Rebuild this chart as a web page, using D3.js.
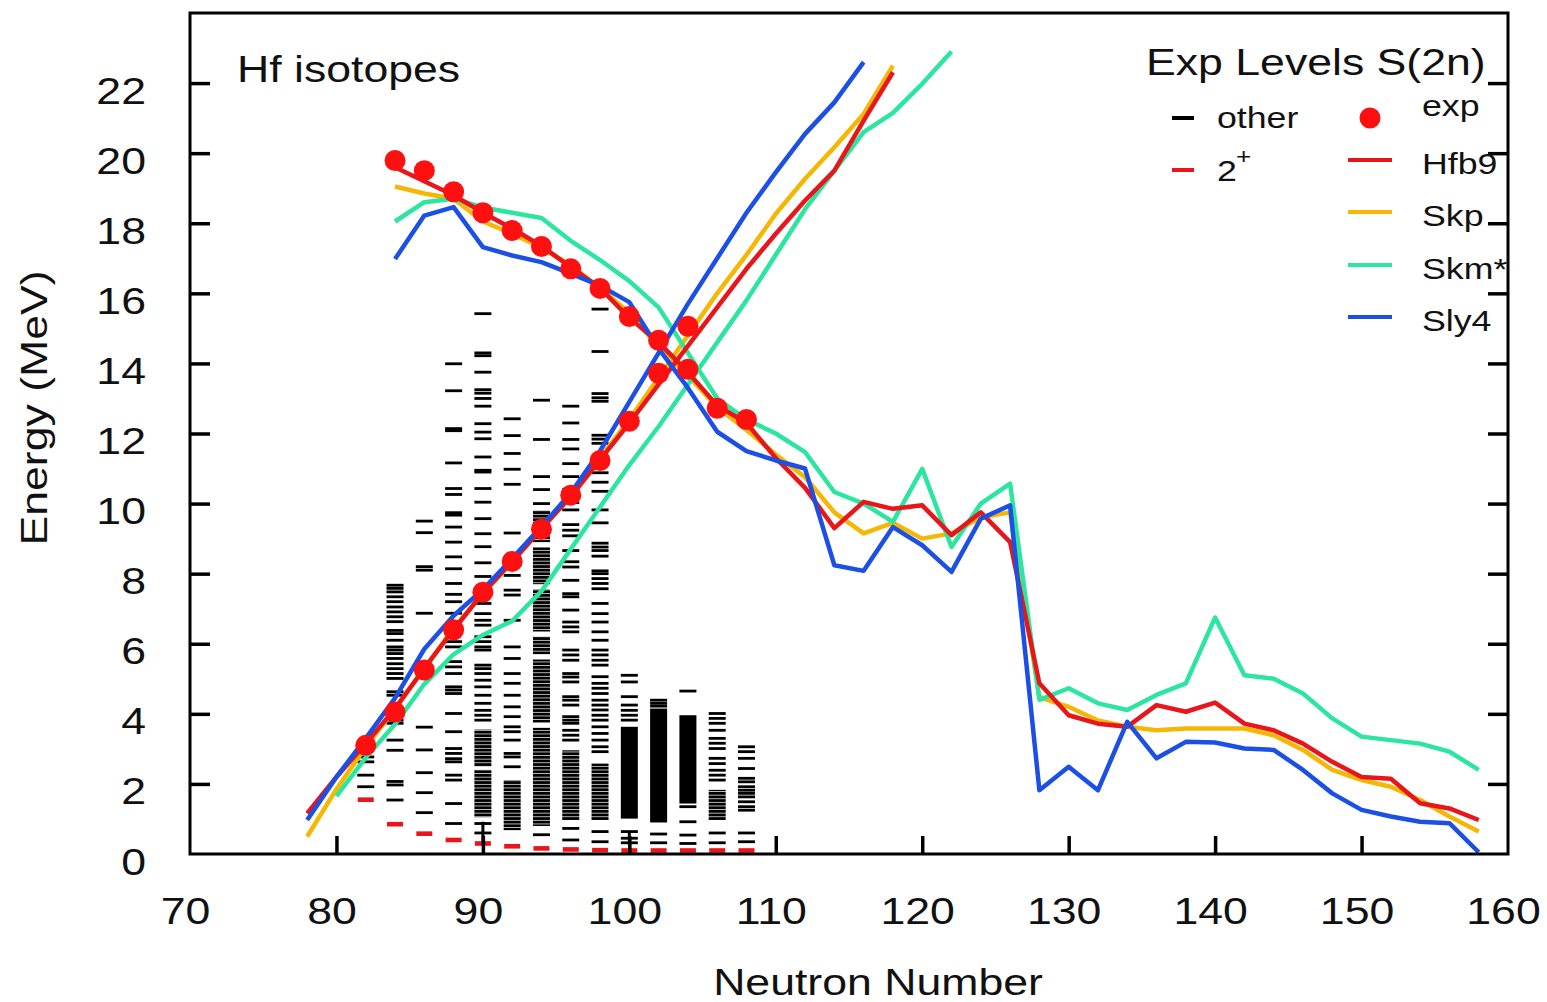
<!DOCTYPE html>
<html>
<head>
<meta charset="utf-8">
<script src="https://cdn.jsdelivr.net/npm/d3@7"></script>
<style>
  body { margin: 0; background: #fff; }
  text { font-family: "Liberation Sans", Arial, Helvetica, sans-serif; fill: #111; }
</style>
</head>
<body>
<svg id="chart" width="1547" height="1002"></svg>
<script>
// ---- data ----
var riseN = [78, 80, 82, 84, 86, 88, 90, 92, 94, 96, 98, 100, 102, 104, 106, 108, 110, 112, 114, 116, 118];
var riseSkmN = [80, 82, 84, 86, 88, 90, 92, 94, 96, 98, 100, 102, 104, 106, 108, 110, 112, 114, 116, 118, 120, 122];
var fallN = [84, 86, 88, 90, 92, 94, 96, 98, 100, 102, 104, 106, 108, 110, 112, 114, 116, 118, 120, 122, 124, 126,
	128, 130, 132, 134, 136, 138, 140, 142, 144, 146, 148, 150, 152, 154, 156, 158];

var hfb9Rise = [1.16, 2.2, 3.15, 4.15, 5.3, 6.4, 7.45, 8.34, 9.28, 10.2, 11.25, 12.3, 13.4, 14.5, 15.6, 16.7, 17.7, 18.65, 19.5, 20.93, 22.31];
var skpRise = [0.5, 1.85, 3.05, 4.15, 5.3, 6.45, 7.43, 8.34, 9.3, 10.25, 11.3, 12.4, 13.6, 14.8, 16.0, 17.1, 18.27, 19.27, 20.17, 21.12, 22.5];
var skmRise = [1.65, 2.75, 3.7, 4.85, 5.7, 6.25, 6.65, 7.5, 8.7, 9.9, 11.1, 12.2, 13.4, 14.6, 15.8, 17.1, 18.4, 19.5, 20.6, 21.15, 21.98, 22.9];
var sly4Rise = [0.97, 2.2, 3.3, 4.45, 5.85, 6.8, 7.55, 8.43, 9.35, 10.3, 11.5, 12.9, 14.3, 15.7, 17.0, 18.3, 19.45, 20.55, 21.45, 22.6];

var hfb9Fall = [19.6, 19.2, 18.8, 18.3, 17.85, 17.35, 16.75, 16.15, 15.3, 14.6, 13.75, 12.8, 12.3, 11.3, 10.45, 9.3, 10.05, 9.85, 9.95, 9.1, 9.75, 8.9,
	4.87, 3.96, 3.72, 3.63, 4.25, 4.06, 4.32, 3.72, 3.53, 3.15, 2.63, 2.2, 2.15, 1.45, 1.3, 0.97];
var skpFall = [19.05, 18.85, 18.7, 18.05, 17.7, 17.3, 16.8, 16.15, 15.45, 14.45, 13.65, 12.75, 12.1, 11.4, 10.75, 9.75, 9.15, 9.45, 9.0, 9.15, 9.6, 9.75,
	4.48, 4.2, 3.81, 3.63, 3.53, 3.58, 3.58, 3.58, 3.39, 2.97, 2.4, 2.11, 1.92, 1.54, 1.07, 0.64];
var skmFall = [18.05, 18.6, 18.7, 18.45, 18.3, 18.15, 17.5, 16.95, 16.35, 15.6, 14.3, 13.0, 12.4, 12.0, 11.47, 10.33, 10.0, 9.48, 10.99, 8.76, 10.0, 10.57,
	4.4, 4.73, 4.3, 4.11, 4.54, 4.87, 6.75, 5.1, 5.0, 4.58, 3.87, 3.35, 3.25, 3.15, 2.92, 2.4];
var sly4Fall = [16.98, 18.22, 18.46, 17.32, 17.08, 16.89, 16.56, 16.22, 15.75, 14.42, 13.3, 12.05, 11.5, 11.23, 11.0, 8.24, 8.08, 9.33, 8.81, 8.05, 9.57, 9.95,
	1.82, 2.49, 1.82, 3.77, 2.73, 3.2, 3.18, 3.01, 2.97, 2.4, 1.73, 1.26, 1.07, 0.92, 0.88, 0.05];

var expRiseN = [82, 84, 86, 88, 90, 92, 94, 96, 98, 100, 102, 104];
var expRise = [3.1, 4.05, 5.25, 6.4, 7.47, 8.35, 9.27, 10.24, 11.23, 12.35, 13.72, 15.06];
var expFallN = [84, 86, 88, 90, 92, 94, 96, 98, 100, 102, 104, 106, 108];
var expFall = [19.79, 19.5, 18.9, 18.3, 17.79, 17.34, 16.7, 16.14, 15.34, 14.66, 13.83, 12.72, 12.4];

// experimental levels, one column per isotope
var levelN = [82, 84, 86, 88, 90, 92, 94, 96, 98, 100, 102, 104, 106, 108];
var twoPlus = [1.55, 0.85, 0.58, 0.4, 0.3, 0.22, 0.16, 0.13, 0.11, 0.1, 0.1, 0.1, 0.1, 0.1];
var otherLevels = {
	82: [2.95, 2.77, 2.63, 2.25, 1.92],
	84: [7.67, 7.58, 7.48, 7.34, 7.2, 7.05, 6.91, 6.77, 6.63, 6.38, 6.29, 6.1, 5.91, 5.82, 5.72, 5.58, 5.43, 5.29, 5.15, 5.01,
		4.63, 4.53, 3.82, 3.73, 3.25, 2.96, 2.07, 1.97, 1.54],
	86: [9.5, 9.17, 8.2, 8.1, 6.87, 3.62, 2.97, 2.32, 1.75, 1.18],
	88: [13.99, 13.22, 12.14, 12.08, 11.16, 10.43, 10.26, 9.74, 9.67, 9.33, 8.9, 8.48, 8.14, 7.72, 7.41, 7.2, 6.87, 6.06, 5.91,
		5.49, 5.34, 5.15, 4.77, 4.68, 4.58, 4.01, 3.49, 3.01, 2.87, 2.72, 2.63, 2.25, 2.11, 1.44, 0.87],
	90: [15.42, 14.3, 14.22, 13.75, 13.25, 13.15, 13.0, 12.78, 12.28, 12.04, 11.85, 11.33, 10.95, 10.9, 10.43, 10.04, 9.57, 9.14,
		8.77, 8.31, 7.92, 7.53, 7.15, 6.86, 6.67, 6.53, 6.2, 6.06, 5.91, 5.82, 5.39, 5.29, 5.15, 4.96, 4.77, 4.53, 4.3, 4.1,
		3.96, 3.82, 0.87, 0.6],
	92: [12.42, 11.94, 11.43, 10.98, 10.55, 9.16, 8.3, 7.95, 7.53, 7.39, 6.67, 5.91, 5.58, 5.15, 4.87, 4.53, 4.2, 3.92, 3.63,
		3.49, 3.25, 2.87, 2.77, 2.49],
	94: [12.95, 11.83, 10.77, 10.4, 10.0, 0.55],
	96: [12.78, 12.3, 11.83, 11.56, 11.14, 10.77, 10.4, 10.03, 9.82, 9.4, 9.24, 9.08, 8.66, 8.34, 8.19, 7.81, 7.43, 7.34, 6.96,
		6.62, 6.48, 6.34, 5.82, 5.68, 5.53, 5.15, 5.05, 4.91, 4.49, 4.39, 4.25, 3.92, 3.82, 3.73, 3.53, 3.39, 3.25, 0.73, 0.4],
	98: [15.55, 14.34, 13.14, 13.02, 12.92, 11.95, 11.84, 11.72, 10.88, 10.61, 10.35, 9.82, 9.45, 8.87, 8.76, 8.66, 8.5, 8.08,
		8.0, 7.86, 7.72, 7.57, 7.15, 6.86, 6.62, 6.34, 6.1, 5.82, 5.68, 5.53, 5.39, 5.06, 4.87, 4.73, 4.58, 4.39, 4.25, 4.11,
		3.96, 3.82, 3.63, 3.44, 3.25, 3.06, 2.92, 0.64, 0.35],
	100: [5.1, 4.91, 4.49, 4.25, 4.1, 3.96, 3.82, 0.64, 0.45, 0.32],
	102: [4.39, 4.3, 4.22, 0.57, 0.32],
	104: [4.65, 1.35, 0.92, 0.54, 0.3],
	106: [4.01, 3.87, 3.73, 3.53, 3.3, 3.16, 3.01, 2.73, 2.58, 2.39, 2.25, 2.11, 0.6, 0.32],
	108: [3.06, 2.92, 2.73, 2.44, 2.16, 2.06, 1.92, 1.82, 1.73, 1.63, 1.49, 1.35, 1.25, 0.6, 0.35]
};
// regions too dense to separate: [low, high]
var stripedBands = {
	90: [[2.5, 3.55], [1.05, 2.4]],
	92: [[0.68, 2.11]],
	94: [[8.9, 9.8], [7.7, 8.75], [6.35, 7.55], [5.7, 6.2], [3.75, 5.55], [0.8, 3.6]],
	96: [[0.97, 2.96]],
	98: [[0.97, 2.58]],
	106: [[0.97, 1.83]]
};
var solidBands = {
	100: [[1.01, 3.63]],
	102: [[0.9, 4.15]],
	104: [[1.44, 3.96]]
};
var connectors = [[90, 0.26, 0.92], [100, 0.26, 0.64]];

var models = ["Hfb9", "Skp", "Skm*", "Sly4"];
var colors = {"Hfb9": "#e8161b", "Skp": "#f5b705", "Skm*": "#2ce6a0", "Sly4": "#1c4fe3"};
var xTicks = [70, 80, 90, 100, 110, 120, 130, 140, 150, 160];
var yTicks = [0, 2, 4, 6, 8, 10, 12, 14, 16, 18, 20, 22];

// ---- scales ----
var svg = d3.select("#chart");
var x = d3.scaleLinear().domain([70, 160]).range([190, 1508]);
var y = d3.scaleLinear().domain([0, 24]).range([854, 13]);
var SX = 1.19; // the original lettering is stretched horizontally

function zip(ns, es) {
	return ns.slice(0, es.length).map(function (n, i) { return [n, es[i]]; });
}

// stripe pattern for packed levels
var defs = svg.append("defs");
defs.append("pattern")
	.attr("id", "stripes")
	.attr("patternUnits", "userSpaceOnUse")
	.attr("width", 20).attr("height", 3.6)
	.append("rect").attr("width", 20).attr("height", 2.9).attr("fill", "#000");

// ---- level columns ----
var lvl = svg.append("g").attr("class", "levels");
var halfW = 8.5;
levelN.forEach(function (n) {
	var cx = x(n);
	(stripedBands[n] || []).forEach(function (b) {
		lvl.append("rect")
			.attr("x", cx - halfW).attr("width", halfW * 2)
			.attr("y", y(b[1])).attr("height", y(b[0]) - y(b[1]))
			.attr("fill", "url(#stripes)");
	});
	(solidBands[n] || []).forEach(function (b) {
		lvl.append("rect")
			.attr("x", cx - halfW).attr("width", halfW * 2)
			.attr("y", y(b[1])).attr("height", y(b[0]) - y(b[1]))
			.attr("fill", "#000");
	});
	lvl.selectAll(null)
		.data(otherLevels[n])
		.enter().append("rect")
		.attr("x", cx - halfW).attr("width", halfW * 2)
		.attr("y", function (e) { return y(e) - 1.4; })
		.attr("height", 2.8)
		.attr("fill", "#000");
});
lvl.selectAll(".conn")
	.data(connectors)
	.enter().append("line")
	.attr("x1", function (d) { return x(d[0]); })
	.attr("x2", function (d) { return x(d[0]); })
	.attr("y1", function (d) { return y(d[1]); })
	.attr("y2", function (d) { return y(d[2]); })
	.attr("stroke", "#000").attr("stroke-width", 3);
lvl.selectAll(".twoplus")
	.data(zip(levelN, twoPlus))
	.enter().append("rect")
	.attr("x", function (d) { return x(d[0]) - 8; })
	.attr("width", 16)
	.attr("y", function (d) { return y(d[1]) - 2.3; })
	.attr("height", 4.6)
	.attr("fill", "#e8161b");

// ---- model curves ----
var line = d3.line()
	.x(function (d) { return x(d[0]); })
	.y(function (d) { return y(d[1]); });

var curves = [
	["Skp", zip(riseN, skpRise)], ["Skp", zip(fallN, skpFall)],
	["Skm*", zip(riseSkmN, skmRise)], ["Skm*", zip(fallN, skmFall)],
	["Hfb9", zip(riseN, hfb9Rise)], ["Hfb9", zip(fallN, hfb9Fall)],
	["Sly4", zip(riseN, sly4Rise)], ["Sly4", zip(fallN, sly4Fall)]
];
svg.append("g").selectAll("path")
	.data(curves)
	.enter().append("path")
	.attr("d", function (d) { return line(d[1]); })
	.attr("fill", "none")
	.attr("stroke", function (d) { return colors[d[0]]; })
	.attr("stroke-width", 4.5)
	.attr("stroke-linejoin", "round");

// experimental S(2n) points
svg.append("g").selectAll("circle")
	.data(zip(expRiseN, expRise).concat(zip(expFallN, expFall)))
	.enter().append("circle")
	.attr("cx", function (d) { return x(d[0]); })
	.attr("cy", function (d) { return y(d[1]); })
	.attr("r", 10.5)
	.attr("fill", "#ff1010");

// ---- frame and axes ----
svg.append("rect")
	.attr("x", 190).attr("y", 13).attr("width", 1318).attr("height", 841)
	.attr("fill", "none").attr("stroke", "#000").attr("stroke-width", 3);

function styleAxis(g) {
	g.select(".domain").remove();
	g.selectAll(".tick line").attr("stroke", "#000").attr("stroke-width", 3.5);
}

var gLeft = svg.append("g").attr("transform", "translate(190,0)")
	.call(d3.axisLeft(y).tickValues(yTicks).tickSize(-20).tickFormat(d3.format("d")));
styleAxis(gLeft);
gLeft.selectAll(".tick text")
	.attr("x", null).attr("dy", null)
	.attr("text-anchor", "end")
	.attr("font-size", 37.5)
	.attr("fill", "#111")
	.attr("transform", "translate(-44,20) scale(" + SX + ",1)");
gLeft.selectAll(".tick").filter(function (d) { return d === 0; }).select("line").remove();

var gRight = svg.append("g").attr("transform", "translate(1508,0)")
	.call(d3.axisRight(y).tickValues(yTicks.slice(1)).tickSize(-20).tickFormat(""));
styleAxis(gRight);

var gBottom = svg.append("g").attr("transform", "translate(0,854)")
	.call(d3.axisBottom(x).tickValues(xTicks).tickSize(-18).tickFormat(d3.format("d")));
styleAxis(gBottom);
gBottom.selectAll(".tick text")
	.attr("y", null).attr("dy", null)
	.attr("text-anchor", "middle")
	.attr("font-size", 37.5)
	.attr("fill", "#111")
	.attr("transform", "translate(-5,70) scale(" + SX + ",1)");
gBottom.selectAll(".tick").filter(function (d) { return d === 70 || d === 160; }).select("line").remove();

function label(txt, px, py, size, anchor, rot) {
	return svg.append("text")
		.attr("transform", "translate(" + px + "," + py + ")" + (rot ? " rotate(" + rot + ")" : "") + " scale(" + SX + ",1)")
		.attr("font-size", size)
		.attr("text-anchor", anchor || "start")
		.text(txt);
}

label("Neutron Number", 878, 995, 37.5, "middle");
label("Energy (MeV)", 47, 408, 37.5, "middle", -90);
label("Hf isotopes", 237, 82, 37.5, "start");

// ---- legend ----
label("Exp Levels S(2n)", 1146, 75, 37.5, "start");

svg.append("line").attr("x1", 1172).attr("x2", 1194).attr("y1", 118).attr("y2", 118)
	.attr("stroke", "#000").attr("stroke-width", 4);
label("other", 1217, 128, 30, "start");
svg.append("line").attr("x1", 1172).attr("x2", 1194).attr("y1", 170).attr("y2", 170)
	.attr("stroke", "#e8161b").attr("stroke-width", 4);
label("2", 1217, 181, 30, "start");
label("+", 1236, 164, 22, "start");

svg.append("circle").attr("cx", 1370).attr("cy", 118).attr("r", 10.5).attr("fill", "#ff1010");
label("exp", 1422, 116, 30, "start");

var legY = [160, 212, 265, 317];
models.forEach(function (m, i) {
	svg.append("line")
		.attr("x1", 1348).attr("x2", 1392)
		.attr("y1", legY[i]).attr("y2", legY[i])
		.attr("stroke", colors[m]).attr("stroke-width", 4);
	label(m, 1422, legY[i] + 14, 30, "start");
});
</script>
</body>
</html>
